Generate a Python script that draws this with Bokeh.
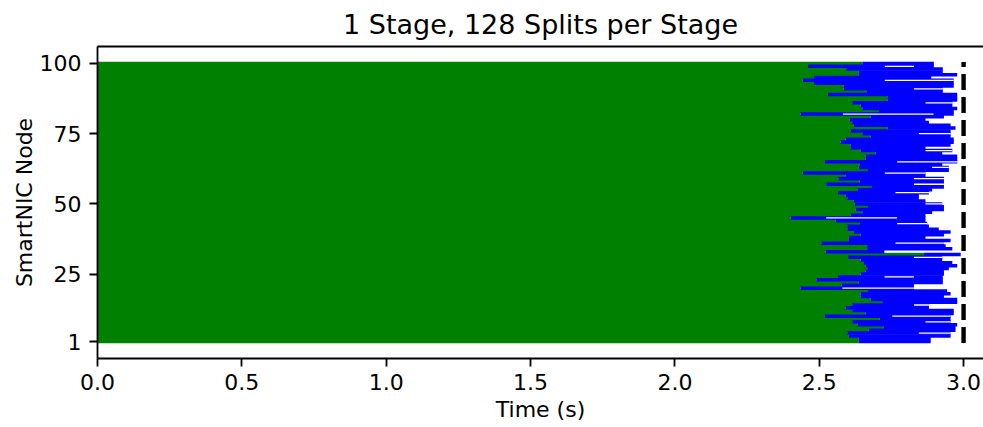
from bokeh.plotting import figure
from bokeh.models import Range1d, FixedTicker, LinearAxis, NumeralTickFormatter
from bokeh.embed import file_html
from bokeh.resources import INLINE

# ---- data, rows listed from node 100 down to node 1 ----
nodes = list(range(100, 0, -1))
green_end = [
    2.649, 2.461, 2.593, 2.637, 2.637, 2.482, 2.443, 2.482, 2.585, 2.585,
    2.663, 2.530, 2.736, 2.736, 2.614, 2.643, 2.649, 2.707, 2.435, 2.678,
    2.605, 2.614, 2.620, 2.736, 2.608, 2.649, 2.678, 2.591, 2.574, 2.608,
    2.608, 2.643, 2.695, 2.660, 2.660, 2.520, 2.641, 2.637, 2.669, 2.443,
    2.591, 2.566, 2.640, 2.524, 2.680, 2.632, 2.565, 2.591, 2.597, 2.620,
    2.622, 2.669, 2.626, 2.649, 2.608, 2.401, 2.557, 2.641, 2.597, 2.597,
    2.620, 2.643, 2.603, 2.603, 2.507, 2.666, 2.666, 2.522, 2.863, 2.600,
    2.643, 2.655, 2.660, 2.666, 2.660, 2.643, 2.565, 2.490, 2.637, 2.577,
    2.435, 2.669, 2.643, 2.643, 2.678, 2.718, 2.614, 2.591, 2.614, 2.660,
    2.520, 2.710, 2.614, 2.632, 2.724, 2.672, 2.597, 2.603, 2.637, 2.637,
]
blue_end = [
    2.897, 2.897, 2.928, 2.928, 2.978, 2.888, 2.966, 2.966, 2.966, 2.928,
    2.928, 2.978, 2.978, 2.978, 2.961, 2.961, 2.978, 2.966, 2.966, 2.932,
    2.868, 2.880, 2.955, 2.972, 2.955, 2.955, 2.955, 2.966, 2.966, 2.955,
    2.868, 2.961, 2.926, 2.978, 2.978, 2.978, 2.926, 2.949, 2.949, 2.868,
    2.868, 2.932, 2.932, 2.932, 2.932, 2.891, 2.880, 2.845, 2.845, 2.868,
    2.926, 2.932, 2.932, 2.891, 2.868, 2.868, 2.868, 2.874, 2.880, 2.914,
    2.955, 2.932, 2.868, 2.955, 2.932, 2.938, 2.961, 2.726, 2.990, 2.926,
    2.926, 2.961, 2.978, 2.949, 2.932, 2.932, 2.928, 2.928, 2.928, 2.828,
    2.828, 2.943, 2.955, 2.932, 2.978, 2.978, 2.880, 2.880, 2.966, 2.966,
    2.955, 2.955, 2.955, 2.978, 2.972, 2.972, 2.955, 2.955, 2.886, 2.886,
]
# thin white gaps visible between some rows
white_node = [99, 94, 91, 86, 82, 75, 69, 65, 63, 61, 59, 57, 54, 50, 45, 43, 36, 33, 31, 24, 20, 14, 10, 8, 4]
white_start = [2.727, 2.727, 2.828, 2.868, 2.582, 2.845, 2.868, 2.770, 2.891, 2.727,
               2.828, 2.828, 2.764, 2.868, 2.524, 2.770, 2.764, 2.726, 2.828, 2.726,
               2.580, 2.828, 2.753, 2.868, 2.845]
white_end = [2.828, 2.966, 2.928, 2.961, 2.896, 2.955, 2.961, 2.978, 2.949, 2.868,
             2.932, 2.932, 2.880, 2.926, 2.770, 2.874, 2.932, 2.863, 2.926, 2.828,
             2.828, 2.880, 2.955, 2.955, 2.955]
deadline = 3.0
x_ticks = [0.0, 0.5, 1.0, 1.5, 2.0, 2.5, 3.0]
y_ticks = [1, 25, 50, 75, 100]

FONT = "DejaVu Sans"

p = figure(width=983, height=427,
           x_range=Range1d(0, 3.069), y_range=Range1d(-5.05, 106.05),
           output_backend="svg", toolbar_location=None,
           min_border_left=97, min_border_right=0, min_border_top=46, min_border_bottom=69,
           title="1 Stage, 128 Splits per Stage")
p.outline_line_color = None
p.background_fill_color = "white"
p.border_fill_color = "white"
p.xgrid.visible = False
p.ygrid.visible = False

p.title.text_font = FONT
p.title.text_font_size = "27px"
p.title.text_font_style = "normal"
p.title.text_color = "black"
p.title.align = "center"
p.title.offset = 3
p.title.standoff = 13

# spans overlap their neighbours slightly to avoid anti-aliasing seams
p.hbar(y=nodes, left=0, right=green_end, height=1.3,
       fill_color="#008000", line_color=None)
p.hbar(y=nodes, left=green_end, right=blue_end, height=1.25,
       fill_color="#0000ff", line_color=None)
p.hbar(y=white_node, left=white_start, right=white_end, height=0.45,
       fill_color="white", line_color=None)
p.line(x=[deadline, deadline], y=[0.5, 100.5], line_color="black", line_width=4.4, line_dash="16 7")

for ax in (p.xaxis[0], p.yaxis[0]):
    ax.axis_line_width = 1.8
    ax.axis_line_color = "black"
    ax.major_tick_line_width = 1.8
    ax.major_tick_line_color = "black"
    ax.major_tick_out = 8
    ax.major_tick_in = 0
    ax.minor_tick_line_color = None
    ax.major_label_text_font = FONT
    ax.major_label_text_font_size = "22px"
    ax.major_label_text_color = "black"
    ax.major_label_standoff = 8
    ax.axis_label_text_font = FONT
    ax.axis_label_text_font_size = "22px"
    ax.axis_label_text_font_style = "normal"
    ax.axis_label_text_color = "black"

p.xaxis[0].ticker = FixedTicker(ticks=x_ticks)
p.xaxis[0].formatter = NumeralTickFormatter(format="0.0")
p.xaxis[0].axis_label = "Time (s)"
p.xaxis[0].major_label_standoff = 7
p.xaxis[0].axis_label_standoff = 4
p.yaxis[0].ticker = FixedTicker(ticks=y_ticks)
p.yaxis[0].axis_label = "SmartNIC Node"
p.yaxis[0].axis_label_standoff = 0

top = LinearAxis(ticker=FixedTicker(ticks=[]), axis_line_width=1.8, axis_line_color="black",
                 major_tick_out=0, major_tick_in=0, minor_tick_line_color=None,
                 major_label_text_font_size="0px", major_label_standoff=0)
p.add_layout(top, "above")

open("out.html", "w").write(file_html(p, INLINE))
